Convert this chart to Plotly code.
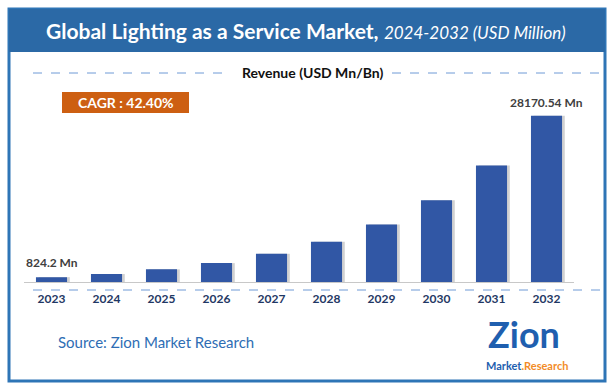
import plotly.graph_objects as go

years = ["2023", "2024", "2025", "2026", "2027", "2028", "2029", "2030", "2031", "2032"]
revenue = [824.2, 1350, 2150, 3200, 4780, 6820, 9740, 13860, 19750, 28170.54]
first_label = "824.2 Mn"
last_label = "28170.54 Mn"
cagr_text = "CAGR : 42.40%"

W, H = 613, 387
def px(x):
    return x / W
def py(y):
    return 1 - y / H

FONT = "Lato"
BAR = "#3157A5"

fig = go.Figure()
# shadow
fig.add_trace(go.Bar(x=list(range(len(years))), y=revenue, width=0.565, offset=-0.2825 + 0.05,
                     marker=dict(color="rgba(0,0,0,0.18)", line=dict(width=0)),
                     hoverinfo="skip", showlegend=False))
fig.add_trace(go.Bar(x=list(range(len(years))), y=revenue, width=0.565, offset=-0.2825,
                     marker=dict(color=BAR, line=dict(width=0)), showlegend=False))

ymax = revenue[-1] * (282 - 100) / 166.3

fig.update_layout(
    width=W, height=H,
    margin=dict(l=0, r=0, t=0, b=0),
    paper_bgcolor="white", plot_bgcolor="white",
    barmode="overlay",
    xaxis=dict(domain=[px(24), px(574)], range=[-0.5, len(years) - 0.5],
               tickmode="array", tickvals=list(range(len(years))),
               ticktext=[f"<b>{y}</b>" for y in years],
               tickfont=dict(family=FONT, size=12, color="#1F3864"),
               showline=True, linecolor="#C8C8C8", linewidth=1,
               showgrid=False, zeroline=False, ticks="", ticklabelstandoff=6, fixedrange=True),
    yaxis=dict(domain=[py(282), py(100)], range=[0, ymax], visible=False, fixedrange=True),
    showlegend=False,
)

shapes = [
    # outer border
    dict(type="rect", xref="paper", yref="paper", x0=px(9), x1=px(605), y0=py(381), y1=py(9),
         line=dict(color="#2E75B6", width=3), fillcolor="rgba(0,0,0,0)"),
    # title bar
    dict(type="rect", xref="paper", yref="paper", x0=px(9), x1=px(605), y0=py(52), y1=py(9),
         line=dict(width=0), fillcolor="#2B69A6"),
    # dashed lines around subtitle
    dict(type="line", xref="paper", yref="paper", x0=px(33), x1=px(230), y0=py(73), y1=py(73),
         line=dict(color="#6F9AD6", width=1, dash="dash")),
    dict(type="line", xref="paper", yref="paper", x0=px(392), x1=px(602), y0=py(73), y1=py(73),
         line=dict(color="#6F9AD6", width=1, dash="dash")),
    # dashed line under axis
    dict(type="line", xref="paper", yref="paper", x0=px(33), x1=px(602), y0=py(290), y1=py(290),
         line=dict(color="#6F9AD6", width=1, dash="dash")),
    # CAGR box
    dict(type="rect", xref="paper", yref="paper", x0=px(62), x1=px(189), y0=py(113), y1=py(92),
         line=dict(width=0), fillcolor="#CD5F12"),
]
fig.update_layout(shapes=shapes)

ann = [
    dict(xref="paper", yref="paper", x=px(306), y=py(31), xanchor="center", yanchor="middle",
         text="<b>Global Lighting as a Service Market,</b> <i><span style='font-size:17px'>2024-2032 (USD Million)</span></i>",
         font=dict(family=FONT, size=21, color="white"), showarrow=False),
    dict(xref="paper", yref="paper", x=px(312), y=py(72), xanchor="center", yanchor="middle",
         text="<b>Revenue (USD Mn/Bn)</b>", font=dict(family=FONT, size=14, color="#111111"), showarrow=False),
    dict(xref="paper", yref="paper", x=px(125.5), y=py(102.5), xanchor="center", yanchor="middle",
         text=f"<b>{cagr_text}</b>", font=dict(family=FONT, size=14, color="white"), showarrow=False),
    dict(xref="x", yref="y", x=0, y=revenue[0], xanchor="center", yanchor="bottom", yshift=5,
         text=f"<b>{first_label}</b>", font=dict(family=FONT, size=12, color="#404040"), showarrow=False),
    dict(xref="x", yref="y", x=len(years) - 1, y=revenue[-1], xanchor="center", yanchor="bottom", yshift=4,
         text=f"<b>{last_label}</b>", font=dict(family=FONT, size=12, color="#404040"), showarrow=False),
    dict(xref="paper", yref="paper", x=px(56), y=py(342), xanchor="left", yanchor="middle",
         text="Source: Zion Market Research", font=dict(family=FONT, size=15, color="#2E6DB4"), showarrow=False),
    # logo
    dict(xref="paper", yref="paper", x=px(524), y=py(334), xanchor="center", yanchor="middle",
         text="<b>Zion</b>", font=dict(family=FONT, size=36, color="#1F5FAF"), showarrow=False),
    dict(xref="paper", yref="paper", x=px(527), y=py(365), xanchor="center", yanchor="middle",
         text="<b><span style='color:#1F5FAF'>Market</span><span style='color:#F28C28'>.Research</span></b>",
         font=dict(family=FONT, size=11), showarrow=False),
]
fig.update_layout(annotations=ann)

fig.write_html("out.html", config={"displayModeBar": False},
               post_script="document.body.style.margin='0';document.body.style.padding='0';")
